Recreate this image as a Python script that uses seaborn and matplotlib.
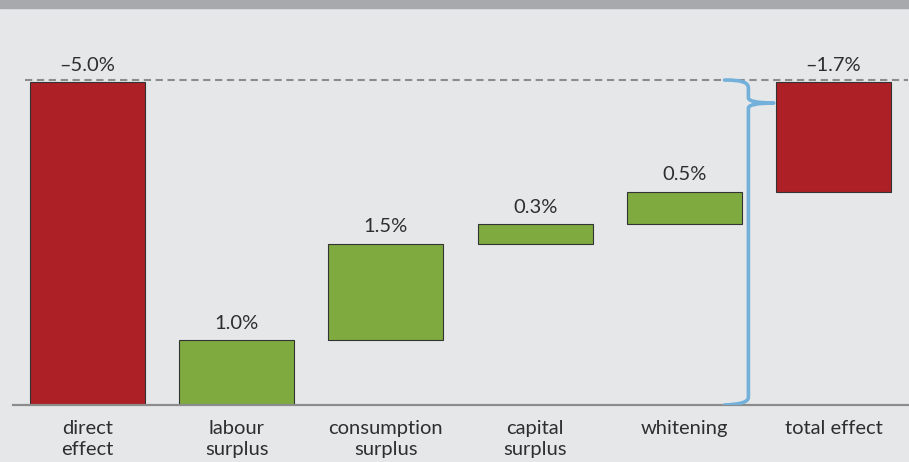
import numpy as np
import pandas as pd
import matplotlib
matplotlib.use("Agg")
import matplotlib.pyplot as plt
import seaborn as sns
from matplotlib.path import Path
from matplotlib.patches import PathPatch, Rectangle

# datos del gráfico
categorias = ["direct\neffect", "labour\nsurplus", "consumption\nsurplus",
              "capital\nsurplus", "whitening", "total effect"]
cambios = [-5.0, 1.0, 1.5, 0.3, 0.5, -1.7]
etiquetas = ["\u20135.0%", "1.0%", "1.5%", "0.3%", "0.5%", "\u20131.7%"]

rojo = "#ad2025"
verde = "#7eaa3f"
fondo = "#e6e7e8"

# base y altura de cada barra (eje de pérdida: 0 abajo, 5 arriba)
perdida_total = -cambios[0]
ganancias = cambios[1:-1]
bases = [0.0] + list(np.cumsum([0.0] + ganancias[:-1])) + [perdida_total + cambios[-1]]
alturas = [perdida_total] + ganancias + [-cambios[-1]]
colores = [rojo] + [verde] * len(ganancias) + [rojo]

df = pd.DataFrame({"categoria": categorias, "altura": alturas})

sns.set_style("white")
plt.rcParams["font.family"] = ["Lato", "DejaVu Sans"]

fig = plt.figure(figsize=(9.09, 4.62), dpi=100, facecolor=fondo)
fig.patches.append(Rectangle((0, 1 - 8 / 462), 1, 8 / 462, transform=fig.transFigure,
                             color="#a7a9ac", zorder=0))
ax = fig.add_axes([13 / 909, 57 / 462, 895 / 909, 397 / 462])
ax.set_facecolor(fondo)

sns.barplot(data=df, x="categoria", y="altura", bottom=bases, width=0.77,
            errorbar=None, color=verde, edgecolor="#333333", linewidth=0.8, ax=ax)
for barra, c in zip(ax.patches, colores):
    barra.set_facecolor(c)

# etiquetas de valor
for i, (b, h, t) in enumerate(zip(bases, alturas, etiquetas)):
    ax.annotate(t, (i, b + h), xytext=(0, 6), textcoords="offset points",
                ha="center", va="bottom", fontsize=14.5, color="#2e2e2e")

# línea discontinua de referencia
ax.plot([-0.42, 5.5], [perdida_total + 0.03] * 2, color="#8c8c8c", lw=1.5,
        dashes=(3.5, 2.2), zorder=1)

# llave azul
xl, xt, xc = 4.43, 4.60, 4.27
yt = 4.675
top, bot = perdida_total + 0.03, 0.0
verts = [(xc, top), (xl, top + 0.01), (xl, top - 0.12),
         (xl, yt + 0.08), (xl, yt), (xt, yt),
         (xl, yt), (xl, yt - 0.08),
         (xl, bot + 0.12), (xl, bot + 0.01), (xc, bot)]
codes = [Path.MOVETO, Path.CURVE3, Path.CURVE3,
         Path.LINETO, Path.CURVE3, Path.CURVE3,
         Path.CURVE3, Path.CURVE3,
         Path.LINETO, Path.CURVE3, Path.CURVE3]
ax.add_patch(PathPatch(Path(verts, codes), fill=False, edgecolor="#74b1da",
                       lw=2.6, capstyle="round", joinstyle="round", zorder=3))

ax.set_xlim(-0.5, 5.5)
ax.set_ylim(0, perdida_total + 74 / 64.6)
ax.set_xlabel("")
ax.set_ylabel("")
ax.set_yticks([])
for s in ["top", "left", "right"]:
    ax.spines[s].set_visible(False)
ax.spines["bottom"].set_color("#8c8c8c")
ax.spines["bottom"].set_linewidth(1.6)
ax.tick_params(axis="x", length=0, pad=11, labelsize=14.5, labelcolor="#2e2e2e")
for lbl in ax.get_xticklabels():
    lbl.set_linespacing(1.25)
    lbl.set_verticalalignment("top")

fig.savefig("out.png", dpi=100, facecolor=fondo)
